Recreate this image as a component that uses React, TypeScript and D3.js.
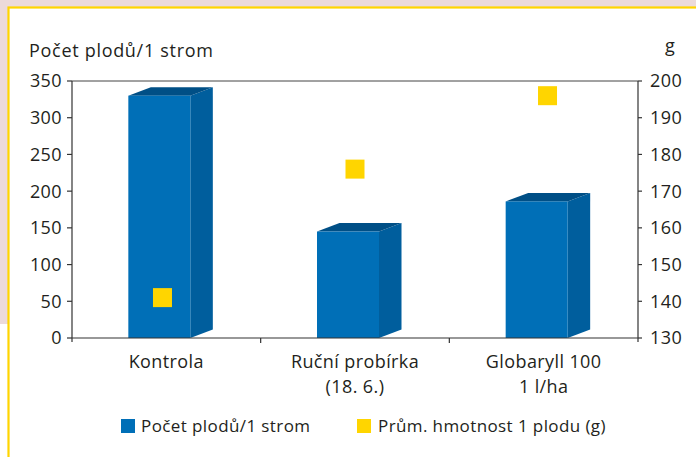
import React from "react";
import * as d3 from "d3";

const categories = ["Kontrola", "Ruční probírka|(18. 6.)", "Globaryll 100|1 l/ha"];
const fruitCount = [330, 145, 186];
const fruitWeight = [141, 176, 196];
const leftTicks = [0, 50, 100, 150, 200, 250, 300, 350];
const rightTicks = [130, 140, 150, 160, 170, 180, 190, 200];
const seriesNames = ["Počet plodů/1 strom", "Prům. hmotnost 1 plodu (g)"];
const leftTitle = "Počet plodů/1 strom";
const rightTitle = "g";

const W = 696;
const H = 457;
const plot = { left: 72, right: 638, top: 81, bottom: 338 };
const FONT = "'Open Sans', 'Noto Sans', sans-serif";
const TXT = "#231f20";
const BLUE = "#006fb7";
const BLUE_SIDE = "#005e9d";
const BLUE_TOP = "#004f86";
const YELLOW = "#ffd500";

export default function App() {
  const x = d3.scaleBand<string>().domain(categories).range([plot.left, plot.right]);
  const xp = d3.scalePoint<string>().domain(categories).range([plot.left, plot.right]).padding(0.47);
  const yL = d3.scaleLinear().domain([0, 350]).range([plot.bottom, plot.top]);
  const yR = d3.scaleLinear().domain([130, 200]).range([plot.bottom, plot.top]);
  const barW = 62;
  const dx = 22.5;
  const dy = 8.5;
  const sq = 19;
  const line = d3.line();

  return (
    <svg width={W} height={H} style={{ position: "fixed", left: 0, top: 0 }} fontFamily={FONT}>
      <rect x={0} y={0} width={W} height={H} fill="#ffffff" />
      <rect x={0} y={0} width={W} height={8} fill="#ecdada" />
      <rect x={0} y={0} width={8} height={324} fill="#ecdada" />
      <rect x={8.5} y={7.5} width={W + 20} height={H + 20} fill="#ffffff" stroke="#ffd500" strokeWidth={2.2} />

      {/* frame */}
      <line x1={plot.left} x2={plot.right} y1={plot.top} y2={plot.top} stroke="#444" strokeWidth={1} />

      {/* bars */}
      {categories.map((c, i) => {
        const cx = (x(c) as number) + x.bandwidth() / 2;
        const x0 = cx - 38;
        const x1 = x0 + barW;
        const yt = yL(fruitCount[i]);
        const yb = yL(0);
        const top: [number, number][] = [[x0, yt], [x0 + dx, yt - dy], [x1 + dx, yt - dy], [x1, yt]];
        const side: [number, number][] = [[x1, yt], [x1 + dx, yt - dy], [x1 + dx, yb - dy], [x1, yb]];
        return (
          <g key={c}>
            <path d={line(side) + "Z"} fill={BLUE_SIDE} />
            <path d={line(top) + "Z"} fill={BLUE_TOP} />
            <rect x={x0} y={yt} width={barW} height={yb - yt} fill={BLUE} />
          </g>
        );
      })}

      {/* squares */}
      {categories.map((c, i) => (
        <rect key={"s" + c} x={(xp(c) as number) - sq / 2} y={yR(fruitWeight[i]) - sq / 2} width={sq} height={sq} fill={YELLOW} />
      ))}

      {/* left axis */}
      <line x1={plot.left} x2={plot.left} y1={plot.top} y2={plot.bottom + 4} stroke="#333" strokeWidth={1.2} />
      {leftTicks.map((t) => (
        <g key={"l" + t}>
          <line x1={plot.left - 5} x2={plot.left} y1={yL(t)} y2={yL(t)} stroke="#333" strokeWidth={1.2} />
          <text x={plot.left - 10} y={yL(t)} dy="0.36em" textAnchor="end" fontSize={18} letterSpacing={0.4} fill={TXT}>{t}</text>
        </g>
      ))}

      {/* right axis */}
      <line x1={plot.right} x2={plot.right} y1={plot.top} y2={plot.bottom + 4} stroke="#333" strokeWidth={1.2} />
      {rightTicks.map((t) => (
        <g key={"r" + t}>
          <line x1={plot.right} x2={plot.right + 4} y1={yR(t)} y2={yR(t)} stroke="#333" strokeWidth={1.2} />
          <text x={plot.right + 12} y={yR(t)} dy="0.36em" textAnchor="start" fontSize={18} letterSpacing={0.4} fill={TXT}>{t}</text>
        </g>
      ))}

      {/* bottom axis */}
      <line x1={plot.left} x2={plot.right} y1={plot.bottom} y2={plot.bottom} stroke="#333" strokeWidth={1.2} />
      {categories.slice(1).map((c) => (
        <line key={"t" + c} x1={x(c) as number} x2={x(c) as number} y1={plot.bottom} y2={plot.bottom + 5} stroke="#333" strokeWidth={1.2} />
      ))}
      {categories.map((c) => {
        const cx = (x(c) as number) + x.bandwidth() / 2;
        return (
          <text key={"c" + c} textAnchor="middle" fontSize={18} letterSpacing={0.4} fill={TXT}>
            {c.split("|").map((ln, j) => (
              <tspan key={j} x={cx} y={368 + j * 25}>{ln}</tspan>
            ))}
          </text>
        );
      })}

      {/* titles */}
      <text x={29} y={57} fontSize={18} letterSpacing={0.7} fill={TXT}>{leftTitle}</text>
      <text x={665} y={52} fontSize={18} fill={TXT}>{rightTitle}</text>

      {/* legend */}
      <rect x={121} y={419} width={14} height={14} fill={BLUE} />
      <text x={141} y={432} fontSize={17} letterSpacing={0.4} fill={TXT}>{seriesNames[0]}</text>
      <rect x={357} y={419} width={14} height={14} fill={YELLOW} />
      <text x={378} y={432} fontSize={17} letterSpacing={0.4} fill={TXT}>{seriesNames[1]}</text>
    </svg>
  );
}
